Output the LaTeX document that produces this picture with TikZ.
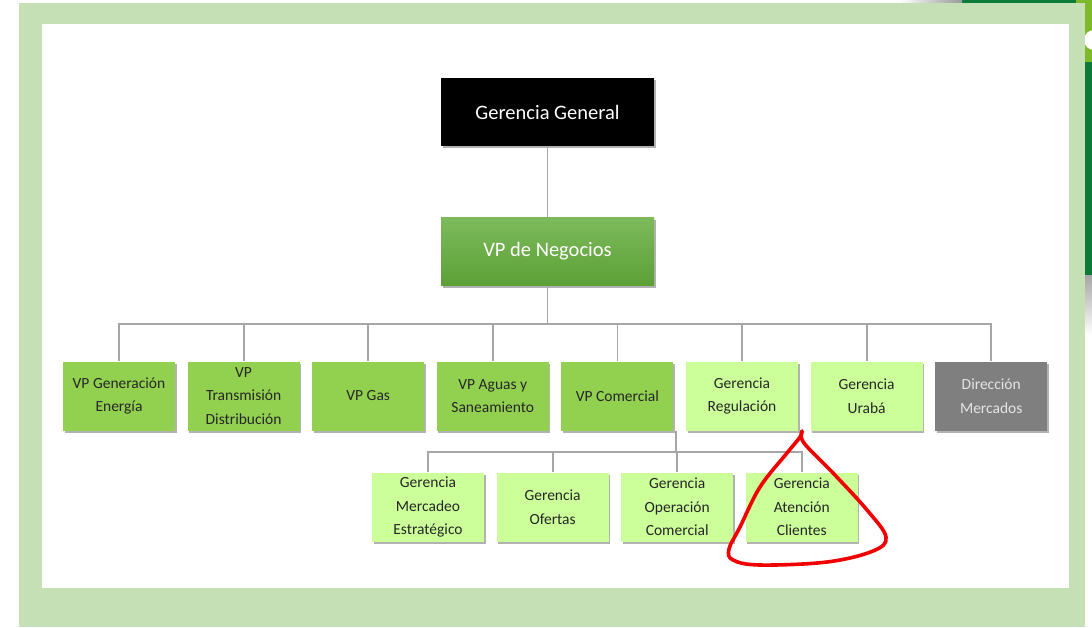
\documentclass[tikz,border=0pt]{standalone}
\usepackage{fontspec}
\setmainfont{Carlito}
\usetikzlibrary{shadows}
\definecolor{frameg}{HTML}{C5E0B4}
\definecolor{darkg}{HTML}{0E7A3A}
\definecolor{limeg}{HTML}{7DB928}
\definecolor{midg}{HTML}{92D050}
\definecolor{lightg}{HTML}{CCFF99}
\definecolor{greyb}{HTML}{7F7F7F}
\definecolor{textd}{HTML}{262626}
\definecolor{connc}{HTML}{A6A6A6}
\definecolor{annot}{HTML}{F00000}
\definecolor{negtop}{HTML}{7DBA5C}
\definecolor{negbot}{HTML}{5CA036}
\begin{document}
\begin{tikzpicture}[x=1pt,y=-1pt,
  shad/.style={drop shadow={shadow xshift=1.5pt,shadow yshift=-2pt,opacity=0.3,fill=black}},
  topbox/.style={shad,minimum width=213pt,minimum height=68pt,inner sep=0pt,align=center,text=white,font=\fontsize{20.5}{24}\selectfont},
  box/.style={shad,minimum width=112pt,minimum height=69pt,inner sep=0pt,align=center,text=textd,font=\fontsize{15.5}{23.5}\selectfont},
  vpbox/.style={box,fill=midg},
  gbox/.style={box,fill=lightg},
  dbox/.style={box,fill=greyb,text=black!10},
  conn/.style={draw=connc,line width=1.8pt}]
% background
\useasboundingbox (0,0) rectangle (1092,627);
\fill[white] (0,0) rectangle (1092,627);
\fill[darkg] (1085,0) rectangle (1092,275);
\shade[top color=gray!70,bottom color=white] (1085,275) rectangle (1092,335);
\fill[limeg] (1076,0) rectangle (1092,8);
\fill[limeg] (1085,8) rectangle (1092,62);
\fill[white] (1094,40) circle[radius=10pt];
\fill[darkg] (962,0) rectangle (1076,3);
\shade[left color=white,right color=gray!80] (900,0) rectangle (962,3);
\fill[frameg] (19,3) rectangle (1085,627);
\fill[white] (42,24) rectangle (1069,588);
% top boxes
\node[topbox,fill=black] (gg) at (547.5,112) {Gerencia General};
\node[topbox,top color=negtop,bottom color=negbot] (vpn) at (547.5,251.5) {VP de Negocios};
% row 1
\node[vpbox] (n1) at (119,396) {VP Generación\\Energía};
\node[vpbox] (n2) at (243.6,396) {VP\\Transmisión\\Distribución};
\node[vpbox] (n3) at (368.2,396) {VP Gas};
\node[vpbox] (n4) at (492.8,396) {VP Aguas y\\Saneamiento};
\node[vpbox] (n5) at (617.4,396) {VP Comercial};
\node[gbox] (n6) at (742,396) {Gerencia\\Regulación};
\node[gbox] (n7) at (866.6,396) {Gerencia\\Urabá};
\node[dbox] (n8) at (991.2,396) {Dirección\\Mercados};
% row 2
\node[gbox] (m1) at (428,507) {Gerencia\\Mercadeo\\Estratégico};
\node[gbox] (m2) at (552.6,507) {Gerencia\\Ofertas};
\node[gbox] (m3) at (677.2,507) {Gerencia\\Operación\\Comercial};
\node[gbox] (m4) at (801.8,507) {Gerencia\\Atención\\Clientes};
% connectors
\draw[conn] (gg.south) -- (vpn.north);
\coordinate (b1) at (547.5,324);
\draw[conn] (vpn.south) -- (b1);
\foreach \n in {n1,n2,n3,n4,n5,n6,n7,n8}{
  \draw[conn] (b1) -| (\n.north);
}
\coordinate (c0) at (676,431);
\coordinate (c1) at (676,452);
\draw[conn] (c0) -- (c1);
\foreach \m in {m1,m2,m3,m4}{
  \draw[conn] (c1) -| (\m.north);
}
% red annotation
\draw[annot,line width=3.6pt,line cap=round,line join=round]
  plot[smooth,tension=0.6] coordinates {(802,431) (804,443) (833,473) (867,510) (886,537) (873,551) (827,562) (760,565) (733,560) (729,549) (740,527) (760,487) (787,453) (800,437) (802,431)};
\end{tikzpicture}
\end{document}
